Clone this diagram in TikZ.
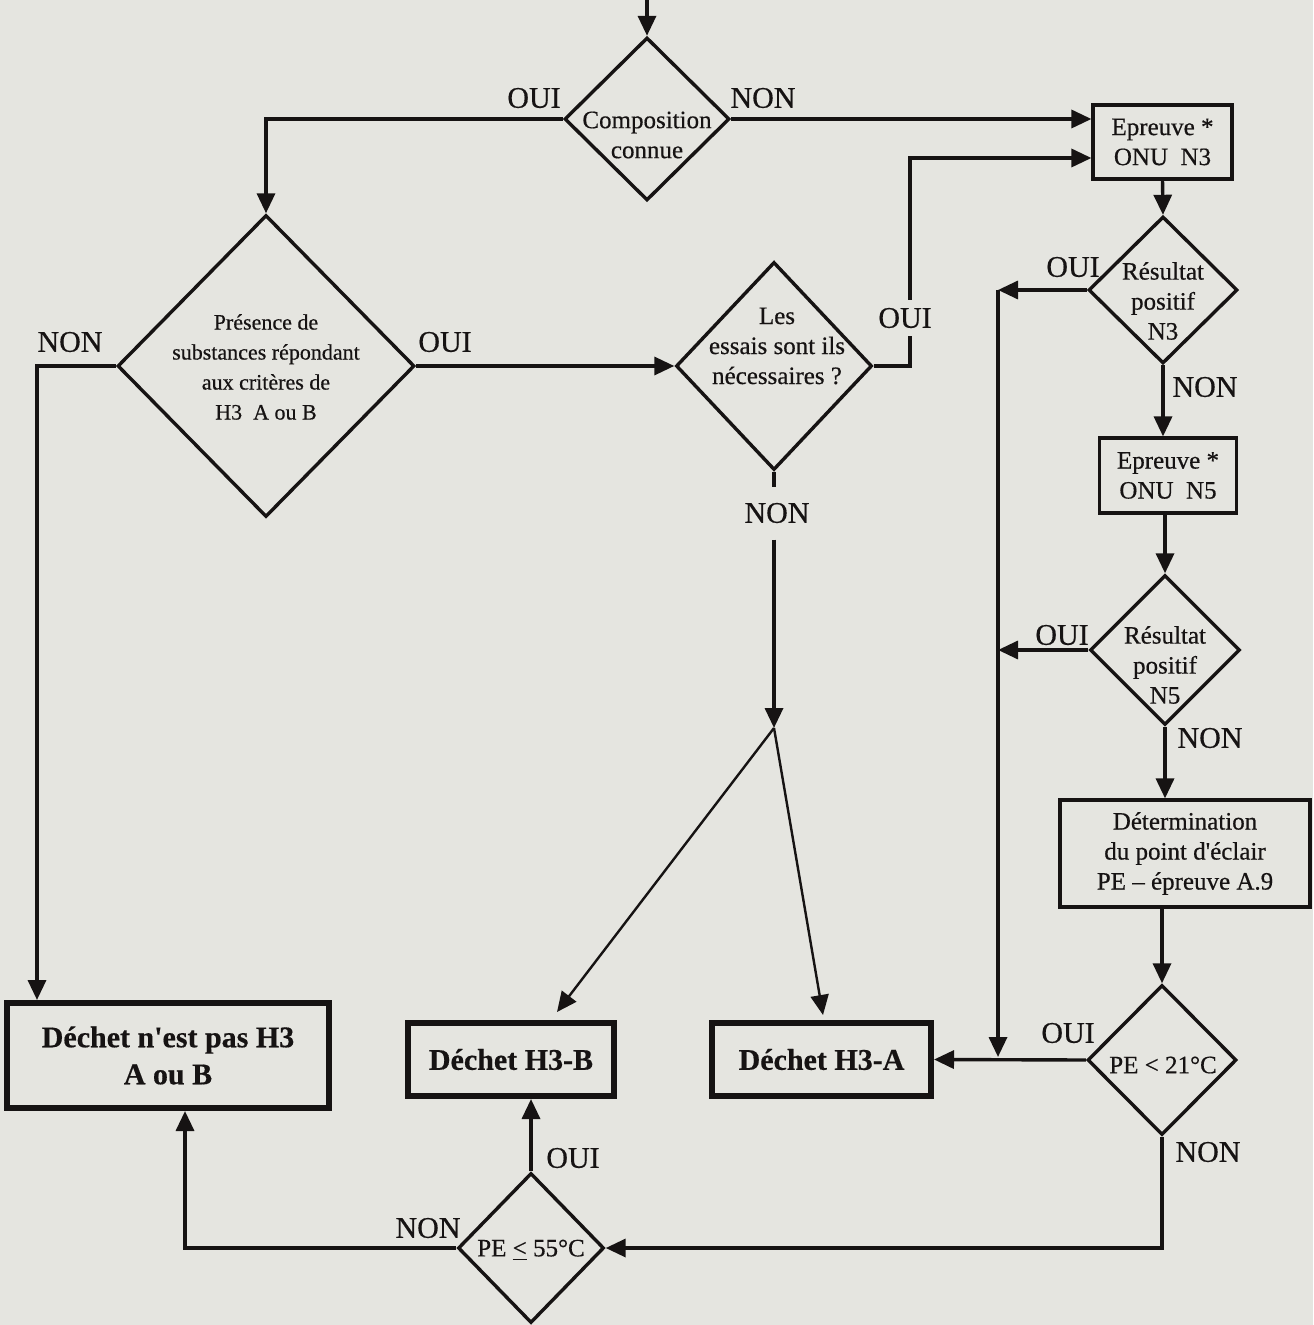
\documentclass[tikz,border=0pt]{standalone}
\usepackage{fontspec}
\setmainfont{Liberation Serif}[FakeBold=0.5]
\usetikzlibrary{shapes.geometric,arrows.meta,calc}
\definecolor{paper}{RGB}{229,229,224}
\definecolor{ink}{RGB}{22,19,19}
\begin{document}
\begin{tikzpicture}[x=0.5pt,y=-0.5pt,
  every node/.style={text=ink},
  dia/.style 2 args={diamond,draw=ink,line width=1.7pt,inner sep=0pt,
    minimum width=#1*0.5pt,minimum height=#2*0.5pt},
  box/.style 2 args={rectangle,draw=ink,line width=1.6pt,inner sep=0pt,
    minimum width=#1*0.5pt,minimum height=#2*0.5pt,align=center,
    font=\fontsize{12.5}{15}\selectfont},
  finbox/.style 2 args={rectangle,draw=ink,line width=3pt,inner sep=0pt,
    minimum width=#1*0.5pt,minimum height=#2*0.5pt,align=center,
    font=\bfseries\fontsize{15}{18.5}\selectfont},
  txt/.style={align=center,inner sep=0pt,font=\fontsize{12.5}{15}\selectfont},
  small/.style={align=center,inner sep=0pt,font=\fontsize{11}{15}\selectfont},
  lab/.style={inner sep=0pt,font=\fontsize{15}{18}\selectfont},
  line/.style={draw=ink,line width=1.7pt},
  arr/.style={draw=ink,line width=1.7pt,-{Triangle[length=10pt,width=9pt]}},
  arrthin/.style={draw=ink,line width=1.2pt,-{Triangle[length=10pt,width=9pt]}}
]
\fill[paper] (0,0) rectangle (1313,1325);
\useasboundingbox (0,0) rectangle (1313,1325);

% decision diamonds
\node[dia={165}{163}] (comp) at (647,119) {};
\node[txt] (compT) at (647,135) {Composition\\connue};
\node[dia={297}{302}] (pres) at (266,366) {};
\node[small] (presT) at (266,367) {Présence de\\substances répondant\\aux critères de\\H3~~A ou B};
\node[dia={196}{208}] (ess) at (774,366) {};
\node[txt] (essT) at (777,346) {Les\\essais sont ils\\nécessaires ?};
\node[dia={149}{147}] (r3) at (1163,290) {};
\node[txt] (r3T) at (1163,301) {Résultat\\positif\\N3};
\node[dia={150}{150}] (r5) at (1165,650) {};
\node[txt] (r5T) at (1165,665) {Résultat\\positif\\N5};
\node[dia={149}{150}] (pe21) at (1162,1060) {};
\node[txt] (pe21T) at (1163,1065) {PE < 21°C};
\node[dia={146}{150}] (pe55) at (531,1248) {};
\node[txt] (pe55T) at (531,1250) {PE \underline{<} 55°C};

% process boxes
\node[box={139}{74}] (e3) at (1162.5,142) {Epreuve *\\ONU~~N3};
\node[box={137}{75}] (e5) at (1168,475.5) {Epreuve *\\ONU~~N5};
\node[box={250}{107}] (det) at (1185,853.5) {Détermination\\du point d\textquotesingle éclair\\PE -- épreuve A.9};

% result boxes
\node[finbox={322}{105}] (dn) at (168,1055.5) {Déchet n\textquotesingle est pas H3\\A ou B};
\node[finbox={206}{73}] (dB) at (511,1059.5) {Déchet H3-B};
\node[finbox={219}{73}] (dA) at (821.5,1059.5) {Déchet H3-A};

% labels
\node[lab] (l1) at (534,98) {OUI};
\node[lab] (l2) at (763,98) {NON};
\node[lab] (l3) at (70,342) {NON};
\node[lab] (l4) at (445,342) {OUI};
\node[lab] (l6) at (777,513) {NON};
\node[lab] (l7) at (1073,267) {OUI};
\node[lab] (l8) at (1205,387) {NON};
\node[lab] (l9) at (1062,635) {OUI};
\node[lab] (l10) at (1210,738) {NON};
\node[lab] (l11) at (1068,1033) {OUI};
\node[lab] (l12) at (1208,1152) {NON};
\node[lab] (l13) at (573,1158) {OUI};
\node[lab] (l14) at (428,1228) {NON};

% coordinates
\coordinate (start) at (647,0);
\coordinate (nL) at (37,366);
\coordinate (oR) at (910,366);
\coordinate (junc) at (774,728);
\coordinate (tB) at (557,1012);
\coordinate (tA) at (823,1015);
\coordinate (v3) at (998,290);
\coordinate (v5) at (998,650);
\coordinate (vb) at (998,1057);

% connectors
\draw[arr] (start) -- (comp.north);
\draw[arr] (comp.west) -| (pres.north);
\draw[arr] (comp.east) -- (comp.east -| e3.west);
\draw[arr] (pres.west) -- (nL) -- (nL |- dn.north);
\draw[arr] (pres.east) -- (ess.west);
\draw[arr] (ess.east) -- (oR) |- ($(e3.west)+(0,16)$);
\draw[line] (ess.south) -- ($(ess.south)+(0,15)$);
\draw[arr] ($(ess.south)+(0,68)$) -- (junc);
\draw[arrthin] (junc) -- (tB);
\draw[arrthin] (junc) -- (tA);
\draw[arr] (e3.south) -- (r3.north);
\draw[arr] (r3.west) -- (v3);
\draw[arr] (v3) -- (vb);
\draw[arr] (r3.south) -- (r3.south |- e5.north);
\draw[arr] (e5.south -| r5.north) -- (r5.north);
\draw[arr] (r5.west) -- (v5);
\draw[arr] (r5.south) -- (r5.south |- det.north);
\draw[arr] (pe21.north |- det.south) -- (pe21.north);
\draw[arr] (pe21.west) -- (dA.east);
\draw[arr] (pe21.south) |- (pe55.east);
\draw[arr] (pe55.north) -- (pe55.north |- dB.south);
\draw[arr] (pe55.west) -| ($(dn.south)+(17,0)$);

% label that interrupts the OUI connector
\node[lab,fill=paper,inner xsep=1pt,inner ysep=4pt] (l5) at (905,318) {OUI};
\end{tikzpicture}
\end{document}
